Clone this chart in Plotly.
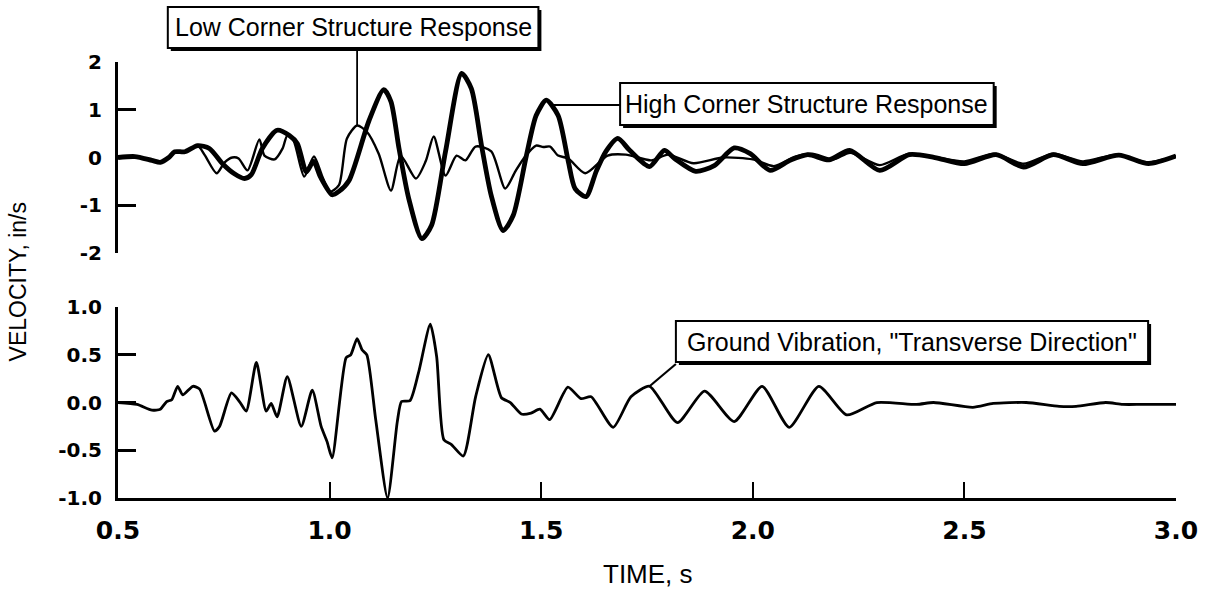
import plotly.graph_objects as go

# ---- Structure response (upper panel), time in s, velocity in in/s ----
high_t = [0.50, 0.54, 0.58, 0.60, 0.62, 0.634, 0.658, 0.688, 0.716, 0.747, 0.775, 0.799,
          0.815, 0.841, 0.876, 0.905, 0.924, 0.945, 0.962, 0.978, 1.006, 1.022, 1.046,
          1.093, 1.128, 1.145, 1.164, 1.187, 1.218, 1.241, 1.274, 1.312, 1.335, 1.359,
          1.382, 1.41, 1.434, 1.465, 1.488, 1.512, 1.54, 1.564, 1.58, 1.606, 1.63, 1.653,
          1.681, 1.709, 1.756, 1.791, 1.815, 1.865, 1.909, 1.956, 1.994, 2.041, 2.088,
          2.13, 2.18, 2.229, 2.30, 2.37, 2.43, 2.50, 2.575, 2.64, 2.71, 2.78, 2.865,
          2.935, 3.0]
high_v = [0.00, 0.02, -0.06, -0.10, 0.00, 0.12, 0.12, 0.25, 0.19, -0.13, -0.34, -0.44,
          -0.36, 0.19, 0.57, 0.46, 0.29, -0.30, -0.08, -0.40, -0.78, -0.71, -0.48,
          0.77, 1.42, 1.17, 0.19, -0.86, -1.70, -1.42, 0.13, 1.76, 1.44, 0.25,
          -0.80, -1.53, -1.21, 0.04, 0.88, 1.20, 0.88, -0.08, -0.65, -0.82, -0.29, 0.13,
          0.40, 0.15, -0.19, 0.15, -0.02, -0.29, -0.17, 0.20, 0.08, -0.27, -0.06,
          0.06, -0.05, 0.15, -0.27, 0.06, 0.00, -0.13, 0.06, -0.20, 0.06, -0.13, 0.05,
          -0.13, 0.03]

low_t = [0.50, 0.54, 0.58, 0.60, 0.62, 0.634, 0.658, 0.688, 0.705, 0.733, 0.752, 0.77,
         0.785, 0.806, 0.834, 0.846, 0.87, 0.889, 0.90, 0.915, 0.94, 0.963, 0.982, 1.00,
         1.022, 1.041, 1.065, 1.088, 1.116, 1.145, 1.168, 1.204, 1.227, 1.246, 1.274,
         1.30, 1.321, 1.345, 1.382, 1.415, 1.439, 1.462, 1.488, 1.505, 1.521, 1.54,
         1.564, 1.604, 1.657, 1.70, 1.76, 1.80, 1.86, 1.93, 2.00, 2.05, 2.10, 2.14,
         2.19, 2.23, 2.30, 2.37, 2.50, 2.57, 2.64, 2.71, 2.78, 2.86, 2.93, 3.0]
low_v = [0.00, 0.02, -0.06, -0.10, 0.00, 0.12, 0.12, 0.25, 0.05, -0.33, -0.10, 0.00,
         -0.02, -0.27, 0.38, 0.04, -0.04, 0.19, 0.46, 0.35, -0.40, 0.02, -0.38, -0.72,
         -0.58, 0.40, 0.67, 0.54, 0.08, -0.69, 0.04, -0.44, -0.08, 0.44, -0.38,
         0.04, -0.06, 0.23, 0.13, -0.65, -0.29, 0.02, 0.25, 0.22, 0.23, 0.04,
         -0.02, -0.33, 0.04, 0.06, -0.06, 0.06, -0.12, 0.00, -0.04, -0.18, 0.02, 0.08,
         -0.04, 0.10, -0.16, 0.08, -0.08, 0.08, -0.13, 0.08, -0.08, 0.06, -0.10, 0.03]

# ---- Ground vibration, transverse direction (lower panel) ----
ground_t = [0.50, 0.545, 0.58, 0.60, 0.615, 0.627, 0.641, 0.653, 0.677, 0.693, 0.728, 0.74,
            0.768, 0.787, 0.803, 0.827, 0.85, 0.862, 0.876, 0.90, 0.933, 0.959, 0.98,
            0.994, 1.006, 1.039, 1.05, 1.065, 1.077, 1.088, 1.109, 1.137, 1.16, 1.17,
            1.19, 1.21, 1.238, 1.253, 1.27, 1.288, 1.316, 1.345, 1.375, 1.406, 1.427,
            1.453, 1.476, 1.497, 1.52, 1.563, 1.594, 1.618, 1.67, 1.712, 1.756, 1.822,
            1.886, 1.956, 2.022, 2.086, 2.156, 2.222, 2.293, 2.387, 2.427, 2.52, 2.568,
            2.646, 2.724, 2.764, 2.834, 2.874, 2.92, 3.00]
ground_v = [0.00, -0.02, -0.08, -0.07, 0.01, 0.03, 0.17, 0.08, 0.17, 0.14, -0.30, -0.25,
            0.10, 0.01, -0.09, 0.42, -0.09, -0.01, -0.15, 0.27, -0.25, 0.13, -0.25,
            -0.41, -0.58, 0.47, 0.50, 0.67, 0.55, 0.50, -0.18, -1.00, -0.20, 0.01,
            0.02, 0.31, 0.82, 0.48, -0.39, -0.44, -0.56, 0.06, 0.50, 0.05, 0.00,
            -0.12, -0.11, -0.07, -0.18, 0.16, 0.04, 0.06, -0.26, 0.06, 0.17, -0.21,
            0.12, -0.20, 0.17, -0.26, 0.17, -0.13, 0.00, -0.02, 0.00, -0.05, -0.01,
            0.00, -0.04, -0.04, 0.00, -0.02, -0.02, -0.02]

x_ticks = [0.5, 1.0, 1.5, 2.0, 2.5, 3.0]
x_labels = ["0.5", "1.0", "1.5", "2.0", "2.5", "3.0"]
top_ticks = [2, 1, 0, -1, -2]
top_labels = ["2", "1", "0", "-1", "-2"]
bot_ticks = [1.0, 0.5, 0.0, -0.5, -1.0]
bot_labels = ["1.0", "0.5", "0.0", "-0.5", "-1.0"]

X_RANGE = [0.5, 3.0]
TOP_RANGE = [-2, 2]
BOT_RANGE = [-1, 1]
TOP_DOM = [0.5619, 1.0]
BOT_DOM = [0.0, 0.438]

W, H = 1210, 604
M = dict(l=118, r=30, t=62, b=106)
PW = W - M["l"] - M["r"]
PH = H - M["t"] - M["b"]

TICK_FONT = "DejaVu Sans"
TEXT_FONT = "Liberation Sans, Arial, sans-serif"


def xp(t):
    return (t - X_RANGE[0]) / (X_RANGE[1] - X_RANGE[0])


def yp(v, rng, dom):
    return dom[0] + (v - rng[0]) / (rng[1] - rng[0]) * (dom[1] - dom[0])


def px_x(p):
    return (p - M["l"]) / PW


def px_y(p):
    return (H - M["b"] - p) / PH


fig = go.Figure()
fig.add_trace(go.Scatter(x=low_t, y=low_v, mode="lines", xaxis="x", yaxis="y",
                         line=dict(color="black", width=2.4, shape="spline", smoothing=0.7),
                         name="Low Corner Structure Response"))
fig.add_trace(go.Scatter(x=high_t, y=high_v, mode="lines", xaxis="x", yaxis="y",
                         line=dict(color="black", width=4.8, shape="spline", smoothing=0.7),
                         name="High Corner Structure Response"))
fig.add_trace(go.Scatter(x=ground_t, y=ground_v, mode="lines", xaxis="x2", yaxis="y2",
                         line=dict(color="black", width=2.8, shape="spline", smoothing=0.6),
                         name="Ground Vibration"))

axis_common = dict(showgrid=False, zeroline=False, linecolor="black", tickcolor="black")

fig.update_layout(
    width=W, height=H, margin=M, showlegend=False,
    paper_bgcolor="white", plot_bgcolor="white",
    xaxis=dict(range=X_RANGE, domain=[0, 1], anchor="y", visible=False),
    yaxis=dict(range=TOP_RANGE, domain=TOP_DOM, anchor="x", showline=True, linewidth=3,
               ticks="inside", ticklen=18, tickwidth=2.5, tickvals=top_ticks,
               ticktext=top_labels, ticklabelstandoff=9,
               tickfont=dict(family=TICK_FONT, size=20, color="black", weight="bold"),
               **axis_common),
    xaxis2=dict(range=X_RANGE, domain=[0, 1], anchor="y2", showline=True, linewidth=3,
                ticks="inside", ticklen=16, tickwidth=2, tickvals=x_ticks,
                ticktext=x_labels, ticklabelstandoff=8,
                tickfont=dict(family=TICK_FONT, size=25, color="black", weight="bold"),
                **axis_common),
    yaxis2=dict(range=BOT_RANGE, domain=BOT_DOM, anchor="x2", showline=True, linewidth=3,
                ticks="inside", ticklen=18, tickwidth=2.5, tickvals=bot_ticks,
                ticktext=bot_labels, ticklabelstandoff=9,
                tickfont=dict(family=TICK_FONT, size=20, color="black", weight="bold"),
                **axis_common),
)

# Axis titles
fig.add_annotation(text="VELOCITY, in/s", xref="paper", yref="paper",
                   x=px_x(18), y=px_y(282), xanchor="center", yanchor="middle",
                   showarrow=False, textangle=-90,
                   font=dict(family=TEXT_FONT, size=23, color="black"))
fig.add_annotation(text="TIME, s", xref="paper", yref="paper",
                   x=px_x(650), y=px_y(574), xanchor="center", yanchor="middle",
                   showarrow=False,
                   font=dict(family="Liberation Sans Narrow, Arial Narrow, Liberation Sans",
                             size=26, color="black"))

# Callout boxes: (label, box pixel extents x0, x1, y0(top), y1(bottom))
callouts = [
    ("Low Corner Structure Response", 168, 540, 7, 48),
    ("High Corner Structure Response", 622, 997, 83, 125),
    ('Ground Vibration, "Transverse Direction"', 678, 1152, 321, 362),
]

shapes = []
SH = 3  # drop-shadow offset in px
for label, x0, x1, y0, y1 in callouts:
    shapes.append(dict(type="rect", xref="paper", yref="paper",
                       x0=px_x(x0 + SH), x1=px_x(x1 + SH), y0=px_y(y0 + SH), y1=px_y(y1 + SH),
                       fillcolor="black", line=dict(width=0)))
    shapes.append(dict(type="rect", xref="paper", yref="paper",
                       x0=px_x(x0), x1=px_x(x1), y0=px_y(y0), y1=px_y(y1),
                       fillcolor="white", line=dict(color="black", width=2)))
    fig.add_annotation(text=label, xref="paper", yref="paper",
                       x=px_x((x0 + x1) / 2), y=px_y((y0 + y1) / 2),
                       xanchor="center", yanchor="middle", showarrow=False,
                       font=dict(family=TEXT_FONT, size=25, color="black"))

# Leader lines from curve points to the callout boxes
i_low = max(range(len(low_t)), key=lambda i: low_v[i] if 1.0 < low_t[i] < 1.1 else -9)
i_high = max(range(len(high_t)), key=lambda i: high_v[i] if 1.45 < high_t[i] < 1.6 else -9)
i_gnd = max(range(len(ground_t)), key=lambda i: ground_v[i] if 1.7 < ground_t[i] < 1.8 else -9)

lx, ly = xp(low_t[i_low]), yp(low_v[i_low], TOP_RANGE, TOP_DOM)
shapes.append(dict(type="line", xref="paper", yref="paper", x0=lx, y0=ly,
                   x1=lx, y1=px_y(48), line=dict(color="black", width=1.8)))
hx, hy = xp(high_t[i_high]), yp(high_v[i_high], TOP_RANGE, TOP_DOM)
shapes.append(dict(type="line", xref="paper", yref="paper", x0=hx + 4 / PW, y0=px_y(105),
                   x1=px_x(622), y1=px_y(105), line=dict(color="black", width=1.8)))
gx, gy = xp(ground_t[i_gnd]), yp(ground_v[i_gnd], BOT_RANGE, BOT_DOM)
shapes.append(dict(type="line", xref="paper", yref="paper", x0=gx, y0=gy,
                   x1=px_x(678), y1=px_y(364), line=dict(color="black", width=2.2)))

fig.update_layout(shapes=shapes)
fig.write_html("out.html")
